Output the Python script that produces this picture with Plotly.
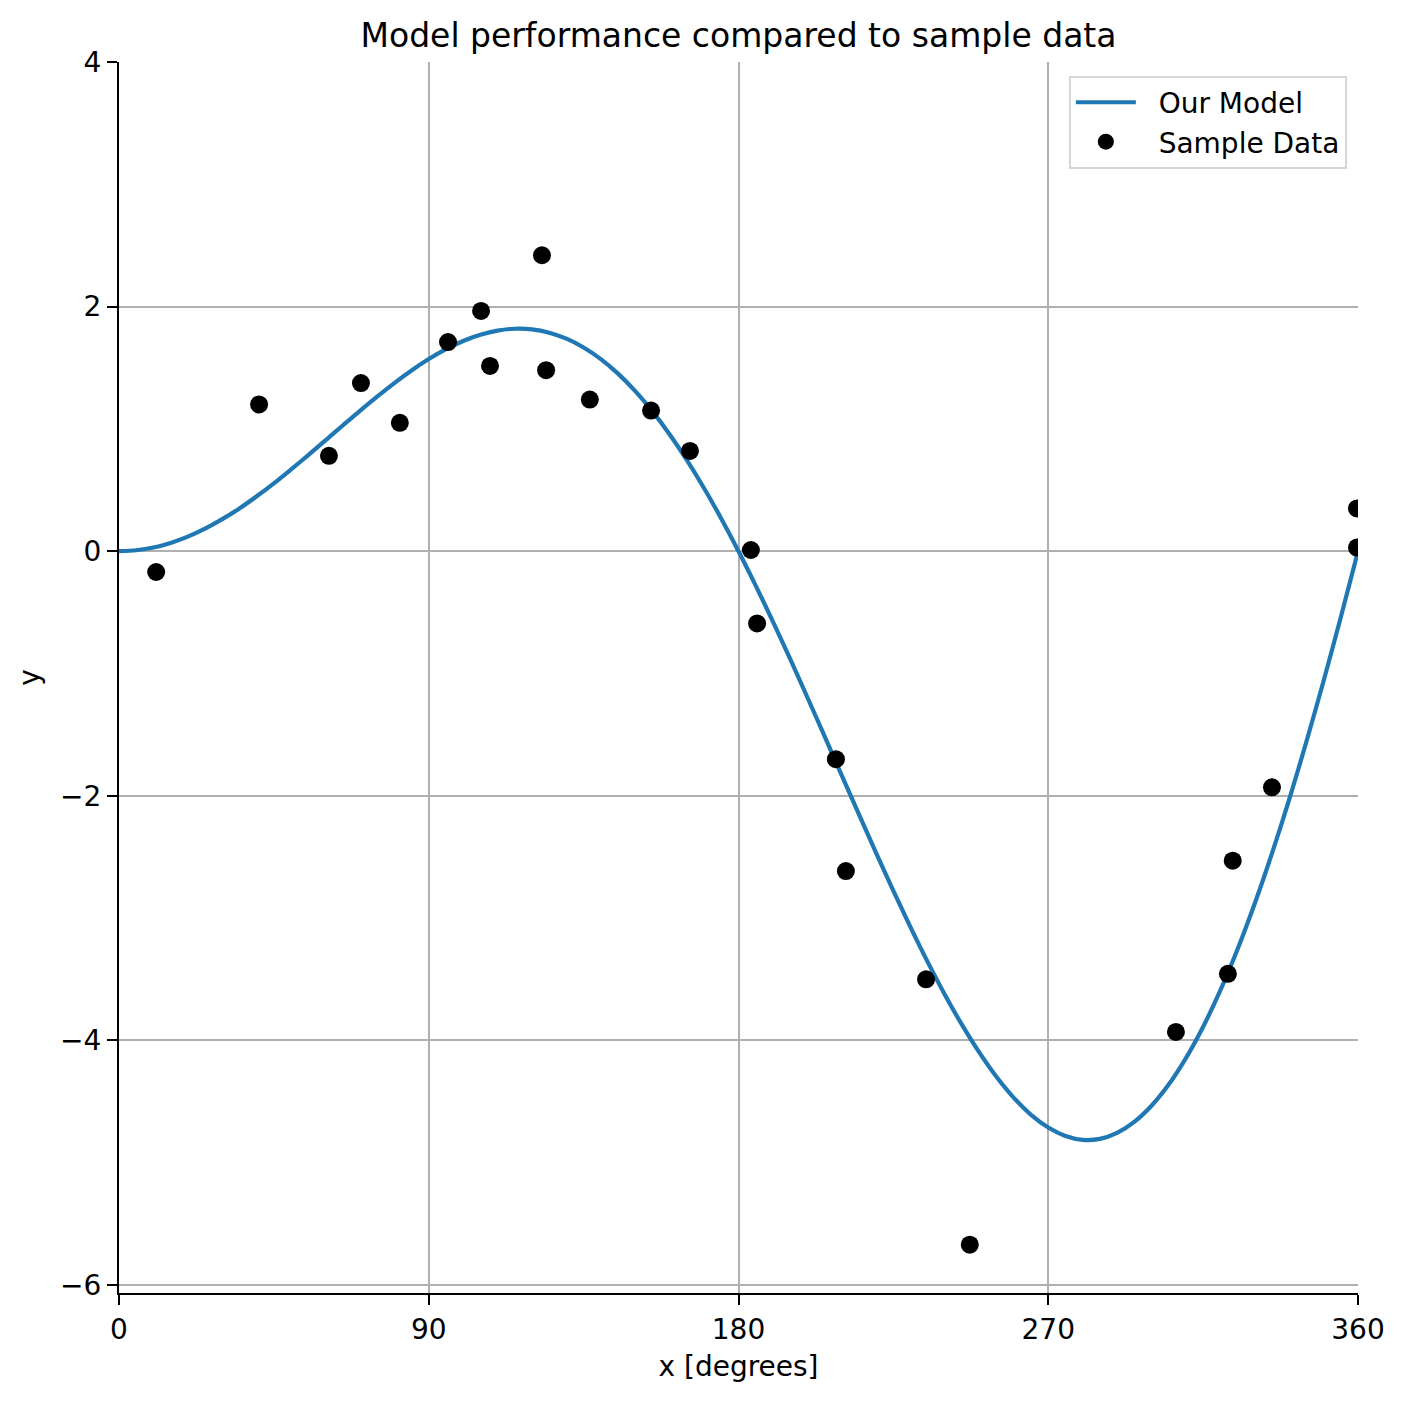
import plotly.graph_objects as go

# Model curve values (every 5 degrees)
model_x = [0, 5, 10, 15, 20, 25, 30, 35, 40, 45, 50, 55, 60, 65, 70, 75, 80, 85, 90,
           95, 100, 105, 110, 115, 120, 125, 130, 135, 140, 145, 150, 155, 160, 165, 170, 175, 180,
           185, 190, 195, 200, 205, 210, 215, 220, 225, 230, 235, 240, 245, 250, 255, 260, 265, 270,
           275, 280, 285, 290, 295, 300, 305, 310, 315, 320, 325, 330, 335, 340, 345, 350, 355, 360]
model_y = [0.0, 0.008, 0.030, 0.068, 0.119, 0.184, 0.262, 0.350, 0.449, 0.555, 0.669, 0.786,
           0.907, 1.028, 1.148, 1.264, 1.375, 1.478, 1.571,
           1.652, 1.719, 1.770, 1.804, 1.819, 1.814, 1.787, 1.738, 1.666, 1.571, 1.452, 1.309,
           1.143, 0.955, 0.745, 0.515, 0.266, 0.0,
           -0.281, -0.576, -0.881, -1.194, -1.512, -1.833, -2.152, -2.468, -2.777, -3.075, -3.360,
           -3.628, -3.875, -4.100, -4.299, -4.469, -4.608, -4.712,
           -4.781, -4.813, -4.805, -4.756, -4.666, -4.534, -4.361, -4.145, -3.888, -3.590, -3.254,
           -2.880, -2.471, -2.030, -1.558, -1.061, -0.540, 0.0]

# Sample data points
sample_x = [10.8, 40.7, 61.0, 70.3, 81.6, 95.6, 105.2, 107.8, 122.9, 124.1, 136.8, 154.6, 165.9,
            183.6, 185.4, 208.3, 211.2, 234.5, 247.2, 307.1, 322.2, 323.6, 335.0, 359.7, 359.7]
sample_y = [-0.17, 1.20, 0.78, 1.375, 1.05, 1.71, 1.965, 1.515, 2.42, 1.48, 1.24, 1.15, 0.82,
            0.01, -0.59, -1.70, -2.615, -3.50, -5.67, -3.93, -3.455, -2.53, -1.93, 0.35, 0.03]

x_ticks = [0, 90, 180, 270, 360]
y_ticks = [-6, -4, -2, 0, 2, 4]

FONT = "DejaVu Sans"
NB = "\u00a0\u00a0"

fig = go.Figure()
fig.add_trace(go.Scatter(
    x=model_x, y=model_y, mode="lines", name=NB + "Our Model",
    line=dict(color="#1f77b4", width=4.2, shape="spline", smoothing=0.8),
))
fig.add_trace(go.Scatter(
    x=sample_x, y=sample_y, mode="markers", name=NB + "Sample Data",
    marker=dict(color="black", size=18, line=dict(width=0)),
))

fig.update_layout(
    width=1405, height=1401,
    margin=dict(l=111, r=55, t=54, b=116, autoexpand=False),
    paper_bgcolor="white", plot_bgcolor="white",
    font=dict(family=FONT, size=28, color="black"),
    title=dict(text="Model performance compared to sample data", x=0.5, xanchor="center",
               xref="paper", y=1 - 27 / 1401, yref="container", yanchor="middle",
               font=dict(size=33, family=FONT, color="black")),
    showlegend=True,
    legend=dict(x=0.991, y=0.989, xanchor="right", yanchor="top",
                bgcolor="rgba(255,255,255,0.8)", bordercolor="#d6d6d6", borderwidth=2,
                font=dict(size=28, family=FONT), itemwidth=60),
)

fig.update_xaxes(
    range=[0, 360], tickvals=x_ticks, ticktext=[str(v) for v in x_ticks],
    showgrid=True, gridcolor="#b0b0b0", gridwidth=2.2, zeroline=False,
    showline=True, linecolor="black", linewidth=2.2, mirror=False,
    ticks="outside", ticklen=10, tickwidth=2.2, tickcolor="black",
    tickfont=dict(size=28, family=FONT),
    title=dict(text="x [degrees]", font=dict(size=28, family=FONT), standoff=12),
)
fig.update_yaxes(
    range=[-6.065, 4], tickvals=y_ticks,
    showgrid=True, gridcolor="#b0b0b0", gridwidth=2.2, zeroline=False,
    showline=True, linecolor="black", linewidth=2.2, mirror=False,
    ticks="outside", ticklen=10, tickwidth=2.2, tickcolor="black",
    tickfont=dict(size=28, family=FONT),
    title=dict(text="y", font=dict(size=28, family=FONT), standoff=12),
)

fig.write_html("out.html")
